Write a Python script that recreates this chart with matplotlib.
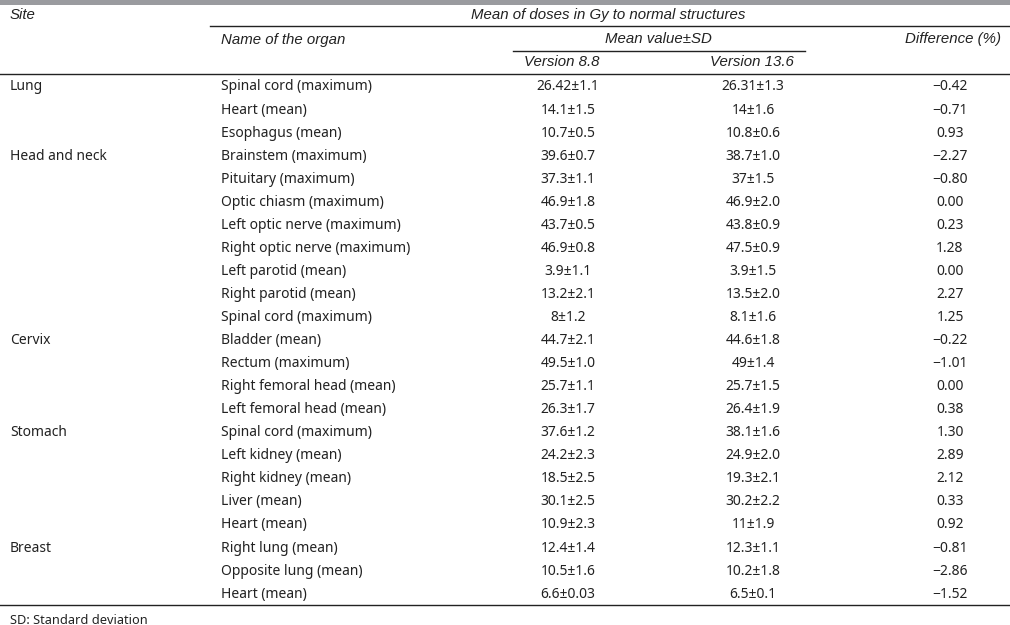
import matplotlib
matplotlib.use('Agg')
import matplotlib.pyplot as plt

sites = ['Lung', 'Head and neck', 'Cervix', 'Stomach', 'Breast']
site_sizes = [3, 8, 4, 5, 3]
organs = ['Spinal cord (maximum)', 'Heart (mean)', 'Esophagus (mean)',
          'Brainstem (maximum)', 'Pituitary (maximum)', 'Optic chiasm (maximum)',
          'Left optic nerve (maximum)', 'Right optic nerve (maximum)',
          'Left parotid (mean)', 'Right parotid (mean)', 'Spinal cord (maximum)',
          'Bladder (mean)', 'Rectum (maximum)', 'Right femoral head (mean)',
          'Left femoral head (mean)', 'Spinal cord (maximum)', 'Left kidney (mean)',
          'Right kidney (mean)', 'Liver (mean)', 'Heart (mean)',
          'Right lung (mean)', 'Opposite lung (mean)', 'Heart (mean)']
v88 = ['26.42±1.1', '14.1±1.5', '10.7±0.5', '39.6±0.7', '37.3±1.1', '46.9±1.8',
       '43.7±0.5', '46.9±0.8', '3.9±1.1', '13.2±2.1', '8±1.2', '44.7±2.1',
       '49.5±1.0', '25.7±1.1', '26.3±1.7', '37.6±1.2', '24.2±2.3', '18.5±2.5',
       '30.1±2.5', '10.9±2.3', '12.4±1.4', '10.5±1.6', '6.6±0.03']
v136 = ['26.31±1.3', '14±1.6', '10.8±0.6', '38.7±1.0', '37±1.5', '46.9±2.0',
        '43.8±0.9', '47.5±0.9', '3.9±1.5', '13.5±2.0', '8.1±1.6', '44.6±1.8',
        '49±1.4', '25.7±1.5', '26.4±1.9', '38.1±1.6', '24.9±2.0', '19.3±2.1',
        '30.2±2.2', '11±1.9', '12.3±1.1', '10.2±1.8', '6.5±0.1']
diff = ['−0.42', '−0.71', '0.93', '−2.27', '−0.80', '0.00', '0.23', '1.28',
        '0.00', '2.27', '1.25', '−0.22', '−1.01', '0.00', '0.38', '1.30',
        '2.89', '2.12', '0.33', '0.92', '−0.81', '−2.86', '−1.52']

head = dict(family='Liberation Sans', style='italic', fontsize=10.8, color='#222222')
txt = dict(family='Noto Sans', fontsize=10, color='#222222')

fig = plt.figure(figsize=(10.1, 6.25), dpi=100)
ax = fig.add_axes([0, 0, 1, 1])
ax.set_xlim(0, 1010)
ax.set_ylim(625, 0)
ax.axis('off')

# top band and rules
ax.fill_between([0, 1010], 0, 4.5, color='#9a9b9f', lw=0)
lc = '#222222'
ax.plot([210, 1010], [26, 26], color=lc, lw=1)
ax.plot([513, 805], [50.5, 50.5], color=lc, lw=1)
ax.plot([0, 1010], [74, 74], color=lc, lw=1)
ax.plot([0, 1010], [605, 605], color=lc, lw=1)

# headers
ax.text(10, 15, 'Site', ha='left', va='center', **head)
ax.text(608, 15, 'Mean of doses in Gy to normal structures', ha='center', va='center', **head)
ax.text(221, 40, 'Name of the organ', ha='left', va='center', **head)
ax.text(658, 39, 'Mean value±SD', ha='center', va='center', **head)
ax.text(953, 39, 'Difference (%)', ha='center', va='center', **head)
ax.text(562, 62, 'Version 8.8', ha='center', va='center', **head)
ax.text(752, 62, 'Version 13.6', ha='center', va='center', **head)

y0, dy = 87, 23.05
start = 0
for site, n in zip(sites, site_sizes):
    ax.text(10, y0 + start * dy, site, ha='left', va='center', **txt)
    start += n
for i in range(len(organs)):
    y = y0 + i * dy
    ax.text(221, y, organs[i], ha='left', va='center', **txt)
    ax.text(568, y, v88[i], ha='center', va='center', **txt)
    ax.text(753, y, v136[i], ha='center', va='center', **txt)
    ax.text(950, y, diff[i], ha='center', va='center', **txt)

ax.text(10, 620, 'SD: Standard deviation', ha='left', va='center',
        family='Noto Sans', fontsize=9.2, color='#222222')

fig.savefig('out.png', dpi=100)
